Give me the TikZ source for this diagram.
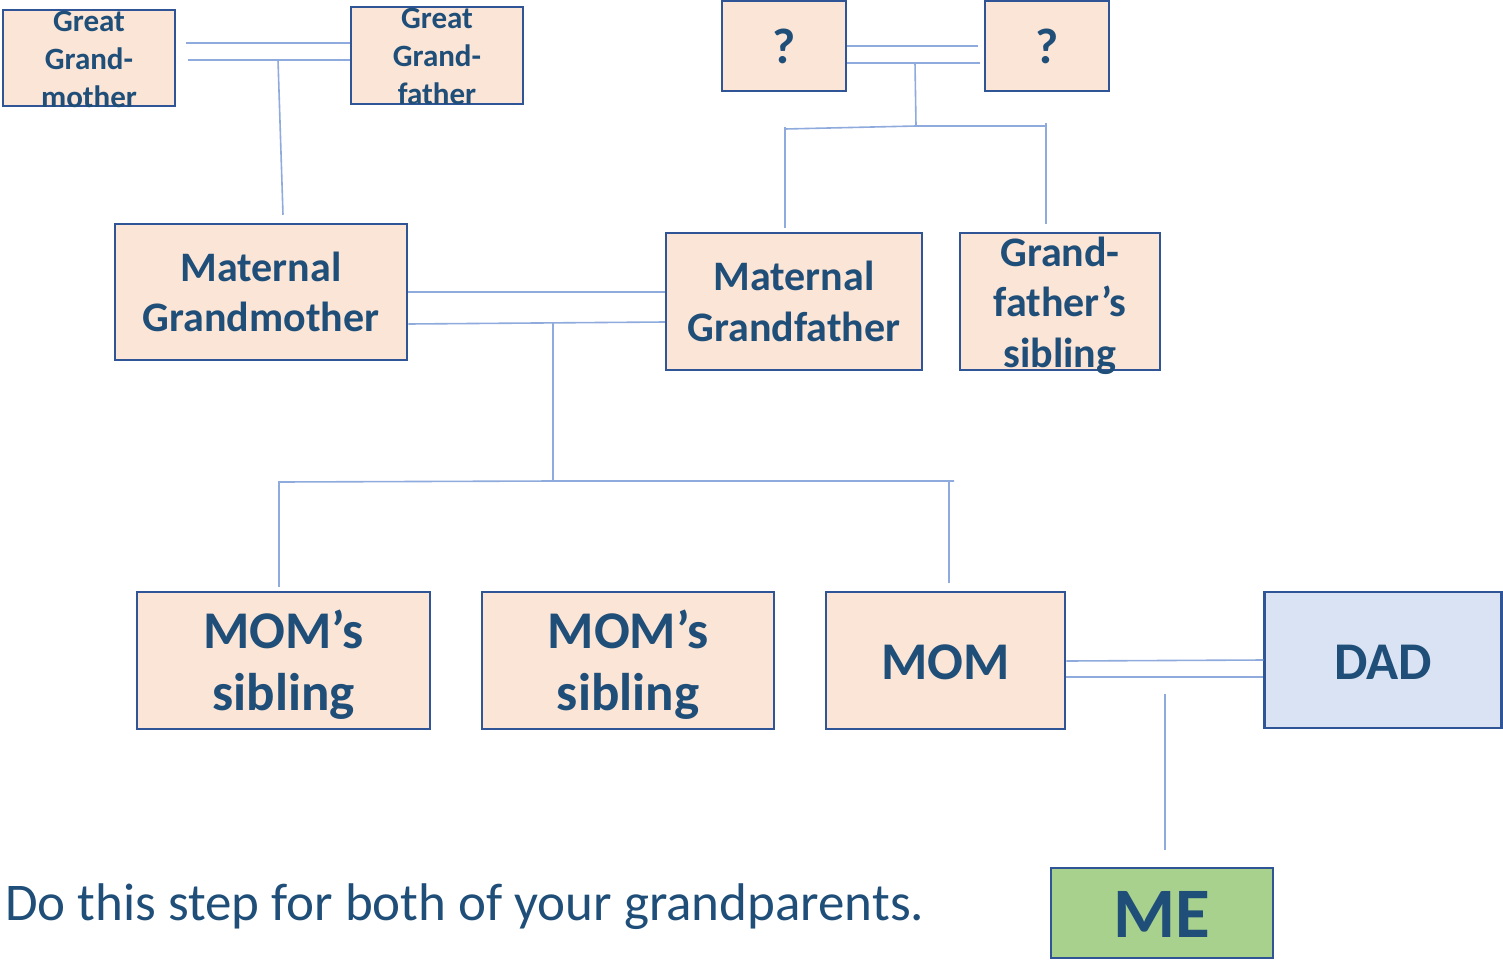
\documentclass[tikz,border=0pt]{standalone}
\usepackage{fontspec}
\setmainfont{Carlito}
\usetikzlibrary{calc}
\definecolor{tblue}{RGB}{31,78,121}
\definecolor{bblue}{RGB}{47,85,151}
\definecolor{lblue}{RGB}{143,170,220}
\definecolor{peach}{RGB}{251,229,214}
\definecolor{dadfill}{RGB}{218,227,243}
\definecolor{mefill}{RGB}{169,209,142}
\begin{document}
\begin{tikzpicture}[x=1pt,y=-1pt,
 box/.style={draw=bblue,line width=2.5pt,fill=peach,inner sep=0pt},
 lbl/.style={text=tblue,align=center,inner sep=0pt},
 fs/.style={font=\fontsize{31}{38}\selectfont\bfseries},
 fm/.style={font=\fontsize{42}{50.5}\selectfont\bfseries},
 fl/.style={font=\fontsize{53}{62}\selectfont\bfseries},
 conn/.style={draw=lblue,line width=1.6pt}]
\useasboundingbox (0,0) rectangle (1503,961);

% boxes
\node[box,minimum width=172,minimum height=96] (ggm) at (89,58) {};
\node[box,minimum width=172,minimum height=97] (ggf) at (437,55.5) {};
\node[box,minimum width=124,minimum height=90] (q1) at (784,46) {};
\node[box,minimum width=124,minimum height=90] (q2) at (1047,46) {};
\node[box,minimum width=292,minimum height=136] (mgm) at (261,292) {};
\node[box,minimum width=256,minimum height=137] (mgf) at (794,301.5) {};
\node[box,minimum width=200,minimum height=137] (gfs) at (1060,301.5) {};
\node[box,minimum width=293,minimum height=137] (ms1) at (283.5,660.5) {};
\node[box,minimum width=292,minimum height=137] (ms2) at (628,660.5) {};
\node[box,minimum width=239,minimum height=137] (mom) at (945.5,660.5) {};
\node[box,fill=dadfill,minimum width=237,minimum height=136] (dad) at (1383,660) {};
\node[box,fill=mefill,minimum width=222,minimum height=90] (me) at (1162,913) {};

% labels
\node[lbl,fs] (tggm) at ([shift={(0,1)}]ggm.center) {Great\\Grand-\\mother};
\node[lbl,fs] (tggf) at ([shift={(0,1)}]ggf.center) {Great\\Grand-\\father};
\node[lbl,font=\fontsize{50}{60}\selectfont\bfseries] (tq1) at (q1.center) {?};
\node[lbl,font=\fontsize{50}{60}\selectfont\bfseries] (tq2) at (q2.center) {?};
\node[lbl,fm] (tmgm) at (mgm.center) {Maternal\\Grandmother};
\node[lbl,fm] (tmgf) at (mgf.center) {Maternal\\Grandfather};
\node[lbl,fm] (tgfs) at ([shift={(0,4)}]gfs.center) {Grand-\\father’s\\sibling};
\node[lbl,fl] (tms1) at ([shift={(0,4)}]ms1.center) {MOM’s\\sibling};
\node[lbl,fl] (tms2) at ([shift={(0,4)}]ms2.center) {MOM’s\\sibling};
\node[lbl,fl] (tmom) at ([shift={(0,2)}]mom.center) {MOM};
\node[lbl,fl] (tdad) at ([shift={(0,2)}]dad.center) {DAD};
\node[lbl,font=\fontsize{71}{80}\selectfont\bfseries] (tme) at ([shift={(0,1)}]me.center) {ME};
\node[text=tblue,inner sep=0pt,anchor=base west,font=\fontsize{53}{62}\selectfont] (note) at (5,920) {Do this step for both of your grandparents.};

% junction coordinates
\coordinate (j1) at (278,60);
\coordinate (j2) at (915,63);
\coordinate (j3) at (916,126);
\coordinate (j4) at (553,323);
\coordinate (j5) at (553,481);
\coordinate (j6) at (1165,694);

% great grandparents
\draw[conn] (186,43) -- (ggf.west |- 0,43);
\draw[conn] (188,60) -- (ggf.west |- 0,60);
\draw[conn] (j1) -- ([shift={(22,-8)}]mgm.north);
% unknown parents
\draw[conn] (q1.east |- 0,46) -- (978,46);
\draw[conn] (q1.east |- 0,63) -- (980,63);
\draw[conn] (j2) -- (j3);
\draw[conn] (785,129) -- (j3) -- (1046,126);
\draw[conn] (785,127) -- ([shift={(-9,-4)}]mgf.north);
\draw[conn] (1046,123) -- ([shift={(-14,-8)}]gfs.north);
% grandparents
\draw[conn] (mgm.east |- 0,292) -- (mgf.west |- 0,292);
\draw[conn] (mgm.east |- 0,324) -- (mgf.west |- 0,322);
\draw[conn] (j4) -- (j5);
\draw[conn] (279,482) -- (j5) -- (954,481);
\draw[conn] (279,481) -- ([shift={(-4.5,-4)}]ms1.north);
\draw[conn] (949,481) -- ([shift={(3.5,-8)}]mom.north);
% parents
\draw[conn] (mom.east |- 0,661) -- (dad.west |- 0,660);
\draw[conn] (mom.east |- 0,677) -- (dad.west |- 0,677);
\draw[conn] (j6) -- ([shift={(3,-17)}]me.north);
\end{tikzpicture}
\end{document}
